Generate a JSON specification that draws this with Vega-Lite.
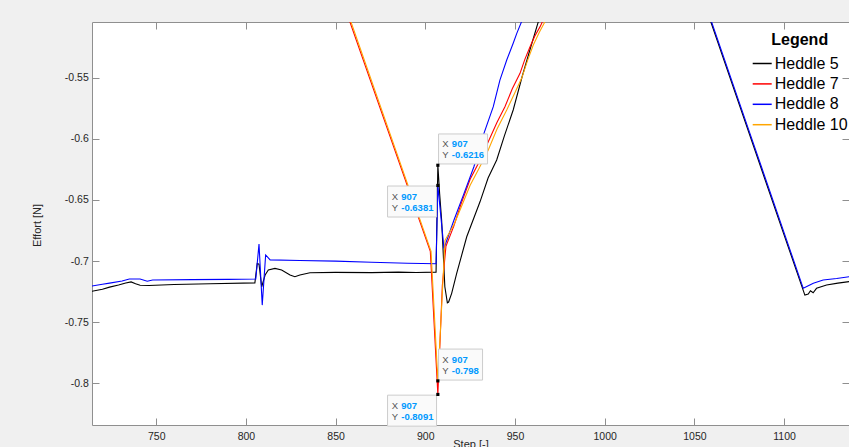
{
  "$schema": "https://vega.github.io/schema/vega-lite/v6.json",
  "width": 757,
  "height": 403,
  "autosize": {"type": "none"},
  "padding": {"left": 92, "top": 22, "right": 0, "bottom": 22},
  "background": "#f0f0f0",
  "config": {
    "view": {"fill": "white", "stroke": null},
    "font": "Liberation Sans",
    "locale": {"number": {"decimal": ".", "thousands": ",", "grouping": [3], "currency": ["$", ""], "minus": "-"}}
  },
  "resolve": {"axis": {"x": "independent", "y": "independent"}},
  "datasets": {
    "lines": [
      {"series": "Heddle 5", "step": 712, "effort": -0.7255},
      {"series": "Heddle 5", "step": 714.2, "effort": -0.7247},
      {"series": "Heddle 5", "step": 720, "effort": -0.7230},
      {"series": "Heddle 5", "step": 724, "effort": -0.7213},
      {"series": "Heddle 5", "step": 729, "effort": -0.7196},
      {"series": "Heddle 5", "step": 733, "effort": -0.7180},
      {"series": "Heddle 5", "step": 736, "effort": -0.7170},
      {"series": "Heddle 5", "step": 738.5, "effort": -0.7185},
      {"series": "Heddle 5", "step": 741, "effort": -0.7198},
      {"series": "Heddle 5", "step": 746, "effort": -0.7200},
      {"series": "Heddle 5", "step": 760, "effort": -0.7192},
      {"series": "Heddle 5", "step": 780, "effort": -0.7186},
      {"series": "Heddle 5", "step": 805, "effort": -0.7178},
      {"series": "Heddle 5", "step": 806.3, "effort": -0.7019},
      {"series": "Heddle 5", "step": 807.3, "effort": -0.7025},
      {"series": "Heddle 5", "step": 808.8, "effort": -0.7210},
      {"series": "Heddle 5", "step": 810.7, "effort": -0.7114},
      {"series": "Heddle 5", "step": 812.5, "effort": -0.7073},
      {"series": "Heddle 5", "step": 816.2, "effort": -0.7060},
      {"series": "Heddle 5", "step": 819.9, "effort": -0.7073},
      {"series": "Heddle 5", "step": 824.6, "effort": -0.7114},
      {"series": "Heddle 5", "step": 827.3, "effort": -0.7128},
      {"series": "Heddle 5", "step": 830.1, "effort": -0.7114},
      {"series": "Heddle 5", "step": 835.7, "effort": -0.7095},
      {"series": "Heddle 5", "step": 850, "effort": -0.7092},
      {"series": "Heddle 5", "step": 870, "effort": -0.7094},
      {"series": "Heddle 5", "step": 885, "effort": -0.7090},
      {"series": "Heddle 5", "step": 895, "effort": -0.7093},
      {"series": "Heddle 5", "step": 906, "effort": -0.7090},
      {"series": "Heddle 5", "step": 907, "effort": -0.6216},
      {"series": "Heddle 5", "step": 908, "effort": -0.6450},
      {"series": "Heddle 5", "step": 909.1, "effort": -0.6664},
      {"series": "Heddle 5", "step": 910.9, "effort": -0.7210},
      {"series": "Heddle 5", "step": 912.3, "effort": -0.7341},
      {"series": "Heddle 5", "step": 913, "effort": -0.7335},
      {"series": "Heddle 5", "step": 914.7, "effort": -0.7264},
      {"series": "Heddle 5", "step": 917.5, "effort": -0.7101},
      {"series": "Heddle 5", "step": 923.1, "effort": -0.6801},
      {"series": "Heddle 5", "step": 930.5, "effort": -0.6515},
      {"series": "Heddle 5", "step": 935, "effort": -0.6320},
      {"series": "Heddle 5", "step": 939.8, "effort": -0.6173},
      {"series": "Heddle 5", "step": 944, "effort": -0.5980},
      {"series": "Heddle 5", "step": 949, "effort": -0.5764},
      {"series": "Heddle 5", "step": 954, "effort": -0.5490},
      {"series": "Heddle 5", "step": 958.3, "effort": -0.5273},
      {"series": "Heddle 5", "step": 963, "effort": -0.5042},
      {"series": "Heddle 5", "step": 970, "effort": -0.4700},
      {"series": "Heddle 5", "step": 1008, "effort": -0.3000},
      {"series": "Heddle 5", "step": 1045, "effort": -0.4450},
      {"series": "Heddle 5", "step": 1059.2, "effort": -0.5044},
      {"series": "Heddle 5", "step": 1080, "effort": -0.5932},
      {"series": "Heddle 5", "step": 1100, "effort": -0.6785},
      {"series": "Heddle 5", "step": 1111.6, "effort": -0.7278},
      {"series": "Heddle 5", "step": 1113.5, "effort": -0.7270},
      {"series": "Heddle 5", "step": 1114.7, "effort": -0.7243},
      {"series": "Heddle 5", "step": 1116.2, "effort": -0.7259},
      {"series": "Heddle 5", "step": 1118.1, "effort": -0.7223},
      {"series": "Heddle 5", "step": 1123.7, "effort": -0.7196},
      {"series": "Heddle 5", "step": 1130, "effort": -0.7180},
      {"series": "Heddle 5", "step": 1137, "effort": -0.7166},

      {"series": "Heddle 7", "step": 838, "effort": -0.4218},
      {"series": "Heddle 7", "step": 858, "effort": -0.5044},
      {"series": "Heddle 7", "step": 902.8, "effort": -0.6920},
      {"series": "Heddle 7", "step": 907, "effort": -0.8091},
      {"series": "Heddle 7", "step": 909.5, "effort": -0.7200},
      {"series": "Heddle 7", "step": 911.5, "effort": -0.6880},
      {"series": "Heddle 7", "step": 916, "effort": -0.6710},
      {"series": "Heddle 7", "step": 920, "effort": -0.6530},
      {"series": "Heddle 7", "step": 925, "effort": -0.6330},
      {"series": "Heddle 7", "step": 930, "effort": -0.6190},
      {"series": "Heddle 7", "step": 935.1, "effort": -0.6023},
      {"series": "Heddle 7", "step": 940, "effort": -0.5865},
      {"series": "Heddle 7", "step": 944.4, "effort": -0.5737},
      {"series": "Heddle 7", "step": 948.5, "effort": -0.5590},
      {"series": "Heddle 7", "step": 952.8, "effort": -0.5464},
      {"series": "Heddle 7", "step": 955.5, "effort": -0.5350},
      {"series": "Heddle 7", "step": 958.4, "effort": -0.5246},
      {"series": "Heddle 7", "step": 961, "effort": -0.5160},
      {"series": "Heddle 7", "step": 964, "effort": -0.5082},
      {"series": "Heddle 7", "step": 966, "effort": -0.5020},
      {"series": "Heddle 7", "step": 972, "effort": -0.4820},

      {"series": "Heddle 8", "step": 712, "effort": -0.7215},
      {"series": "Heddle 8", "step": 714.2, "effort": -0.7204},
      {"series": "Heddle 8", "step": 720, "effort": -0.7190},
      {"series": "Heddle 8", "step": 724, "effort": -0.7180},
      {"series": "Heddle 8", "step": 731, "effort": -0.7163},
      {"series": "Heddle 8", "step": 735, "effort": -0.7147},
      {"series": "Heddle 8", "step": 741, "effort": -0.7147},
      {"series": "Heddle 8", "step": 745, "effort": -0.7165},
      {"series": "Heddle 8", "step": 748, "effort": -0.7155},
      {"series": "Heddle 8", "step": 770, "effort": -0.7152},
      {"series": "Heddle 8", "step": 790, "effort": -0.7150},
      {"series": "Heddle 8", "step": 805.5, "effort": -0.7147},
      {"series": "Heddle 8", "step": 807.3, "effort": -0.6861},
      {"series": "Heddle 8", "step": 809.1, "effort": -0.7360},
      {"series": "Heddle 8", "step": 811, "effort": -0.6950},
      {"series": "Heddle 8", "step": 813.5, "effort": -0.6990},
      {"series": "Heddle 8", "step": 830, "effort": -0.6995},
      {"series": "Heddle 8", "step": 850, "effort": -0.7000},
      {"series": "Heddle 8", "step": 870, "effort": -0.7010},
      {"series": "Heddle 8", "step": 890, "effort": -0.7018},
      {"series": "Heddle 8", "step": 906, "effort": -0.7022},
      {"series": "Heddle 8", "step": 907, "effort": -0.6381},
      {"series": "Heddle 8", "step": 910.4, "effort": -0.6896},
      {"series": "Heddle 8", "step": 916, "effort": -0.6664},
      {"series": "Heddle 8", "step": 921.6, "effort": -0.6446},
      {"series": "Heddle 8", "step": 927.1, "effort": -0.6228},
      {"series": "Heddle 8", "step": 932.7, "effort": -0.5955},
      {"series": "Heddle 8", "step": 937.9, "effort": -0.5737},
      {"series": "Heddle 8", "step": 941.6, "effort": -0.5519},
      {"series": "Heddle 8", "step": 945.4, "effort": -0.5355},
      {"series": "Heddle 8", "step": 949, "effort": -0.5218},
      {"series": "Heddle 8", "step": 951, "effort": -0.5137},
      {"series": "Heddle 8", "step": 953.7, "effort": -0.5040},
      {"series": "Heddle 8", "step": 957, "effort": -0.4880},
      {"series": "Heddle 8", "step": 1008, "effort": -0.3000},
      {"series": "Heddle 8", "step": 1045, "effort": -0.4420},
      {"series": "Heddle 8", "step": 1059.6, "effort": -0.5044},
      {"series": "Heddle 8", "step": 1080, "effort": -0.5914},
      {"series": "Heddle 8", "step": 1100, "effort": -0.6767},
      {"series": "Heddle 8", "step": 1110.7, "effort": -0.7223},
      {"series": "Heddle 8", "step": 1113.5, "effort": -0.7202},
      {"series": "Heddle 8", "step": 1116.3, "effort": -0.7182},
      {"series": "Heddle 8", "step": 1121.8, "effort": -0.7155},
      {"series": "Heddle 8", "step": 1129.3, "effort": -0.7142},
      {"series": "Heddle 8", "step": 1137, "effort": -0.7126},

      {"series": "Heddle 10", "step": 838.6, "effort": -0.4218},
      {"series": "Heddle 10", "step": 858.6, "effort": -0.5044},
      {"series": "Heddle 10", "step": 903.2, "effort": -0.6920},
      {"series": "Heddle 10", "step": 907, "effort": -0.7980},
      {"series": "Heddle 10", "step": 911, "effort": -0.6830},
      {"series": "Heddle 10", "step": 916, "effort": -0.6700},
      {"series": "Heddle 10", "step": 920, "effort": -0.6560},
      {"series": "Heddle 10", "step": 925, "effort": -0.6380},
      {"series": "Heddle 10", "step": 930, "effort": -0.6240},
      {"series": "Heddle 10", "step": 935.1, "effort": -0.6091},
      {"series": "Heddle 10", "step": 940, "effort": -0.5920},
      {"series": "Heddle 10", "step": 945.4, "effort": -0.5764},
      {"series": "Heddle 10", "step": 950, "effort": -0.5620},
      {"series": "Heddle 10", "step": 953.7, "effort": -0.5505},
      {"series": "Heddle 10", "step": 957, "effort": -0.5360},
      {"series": "Heddle 10", "step": 960.2, "effort": -0.5232},
      {"series": "Heddle 10", "step": 963.5, "effort": -0.5130},
      {"series": "Heddle 10", "step": 966.7, "effort": -0.5042},
      {"series": "Heddle 10", "step": 972, "effort": -0.4870}
    ],
    "tips": [
      {"series": "Heddle 5", "step": 907, "effort": -0.6216, "xs": "907", "ys": "-0.6216"},
      {"series": "Heddle 8", "step": 907, "effort": -0.6381, "xs": "907", "ys": "-0.6381"},
      {"series": "Heddle 10", "step": 907, "effort": -0.798, "xs": "907", "ys": "-0.798"},
      {"series": "Heddle 7", "step": 907, "effort": -0.8091, "xs": "907", "ys": "-0.8091"}
    ]
  },
  "layer": [
    {
      "data": {"name": "lines"},
      "mark": {"type": "line", "clip": true, "strokeWidth": 1.1},
      "encoding": {
        "x": {
          "field": "step", "type": "quantitative",
          "scale": {"domain": [714.2, 1136.2], "nice": false, "zero": false},
          "axis": {
            "orient": "bottom", "values": [750, 800, 850, 900, 950, 1000, 1050, 1100], "format": "d",
            "tickSize": -7, "labelPadding": 13.9, "labelFontSize": 10.5, "labelColor": "#262626",
            "labelFlush": false, "labelOverlap": false, "labelBound": false,
            "domainColor": "#8f8f8f", "tickColor": "#8f8f8f", "grid": false,
            "title": "Step [-]", "titleFontSize": 11, "titleFontWeight": "normal", "titleColor": "#262626",
            "titleBaseline": "top", "titleX": 378.5, "titleY": 13.5
          }
        },
        "y": {
          "field": "effort", "type": "quantitative",
          "scale": {"domain": [-0.8341, -0.5044], "nice": false, "zero": false},
          "axis": {
            "orient": "left", "values": [-0.8, -0.75, -0.7, -0.65, -0.6, -0.55], "format": "~g",
            "tickSize": -7, "labelPadding": 10.7, "labelFontSize": 10.5, "labelColor": "#262626",
            "labelFlush": false, "labelOverlap": false, "labelBound": false,
            "domainColor": "#8f8f8f", "tickColor": "#8f8f8f", "grid": false,
            "title": "Effort [N]", "titleFontSize": 11, "titleFontWeight": "normal", "titleColor": "#262626",
            "titleAngle": -90, "titleBaseline": "middle", "titleAlign": "center", "titleX": -55, "titleY": 203
          }
        },
        "color": {
          "field": "series", "type": "nominal",
          "scale": {"domain": ["Heddle 5", "Heddle 7", "Heddle 8", "Heddle 10"], "range": ["#000000", "#ff0000", "#0000ff", "#ffa500"]},
          "legend": {
            "title": "Legend", "orient": "none", "legendX": 659.7, "legendY": 10,
            "symbolType": "stroke", "symbolSize": 361, "symbolStrokeWidth": 1.5,
            "labelFontSize": 16, "labelColor": "#000000", "labelOffset": 2, "labelLimit": 200,
            "titleFontSize": 16, "titleFontWeight": "bold", "titleColor": "#000000",
            "titleAnchor": "middle", "titlePadding": 5, "rowPadding": 1.4, "padding": 0
          }
        }
      }
    },
    {
      "data": {"name": "tips"},
      "mark": {"type": "point", "opacity": 0},
      "encoding": {
        "x": {
          "field": "step", "type": "quantitative",
          "scale": {"domain": [714.2, 1136.2], "nice": false, "zero": false},
          "axis": {"orient": "top", "values": [750, 800, 850, 900, 950, 1000, 1050, 1100], "tickSize": -7, "labels": false, "title": null, "domainColor": "#8f8f8f", "tickColor": "#8f8f8f", "grid": false}
        },
        "y": {
          "field": "effort", "type": "quantitative",
          "scale": {"domain": [-0.8341, -0.5044], "nice": false, "zero": false},
          "axis": {"orient": "right", "values": [-0.8, -0.75, -0.7, -0.65, -0.6, -0.55], "tickSize": -7, "labels": false, "title": null, "domainColor": "#8f8f8f", "tickColor": "#8f8f8f", "grid": false}
        }
      }
    },
    {
      "data": {"name": "tips"},
      "mark": {"type": "point", "filled": true, "fill": "#fafafa", "stroke": "#cccccc", "strokeWidth": 1, "opacity": 1, "size": 10000, "clip": false},
      "encoding": {
        "x": {"field": "step", "type": "quantitative", "scale": {"domain": [714.2, 1136.2], "nice": false, "zero": false}, "axis": null},
        "y": {"field": "effort", "type": "quantitative", "scale": {"domain": [-0.8341, -0.5044], "nice": false, "zero": false}, "axis": null},
        "shape": {
          "field": "series", "type": "nominal", "legend": null,
          "scale": {
            "domain": ["Heddle 5", "Heddle 8", "Heddle 10", "Heddle 7"],
            "range": ["M0.014,-0.626H0.994V-0.026H0.014Z", "M-1.006,0.012H-0.026V0.632H-1.006Z", "M0.014,-0.636H0.894V-0.016H0.014Z", "M-1.006,0.014H-0.026V0.634H-1.006Z"]
          }
        }
      }
    },
    {
      "data": {"name": "tips"},
      "mark": {"type": "square", "size": 10, "color": "#000000", "opacity": 1, "clip": false},
      "encoding": {
        "x": {"field": "step", "type": "quantitative", "scale": {"domain": [714.2, 1136.2], "nice": false, "zero": false}, "axis": null},
        "y": {"field": "effort", "type": "quantitative", "scale": {"domain": [-0.8341, -0.5044], "nice": false, "zero": false}, "axis": null}
      }
    },
    {
      "data": {"name": "tips"},
      "transform": [{"filter": "datum.series == 'Heddle 5' || datum.series == 'Heddle 10'"}],
      "layer": [
        {"mark": {"type": "text", "align": "left", "baseline": "alphabetic", "dx": 4.4, "dy": -18.3, "fontSize": 9.5, "color": "#555555", "clip": false}, "encoding": {"text": {"value": "X"}}},
        {"mark": {"type": "text", "align": "left", "baseline": "alphabetic", "dx": 4.4, "dy": -7, "fontSize": 9.5, "color": "#555555", "clip": false}, "encoding": {"text": {"value": "Y"}}},
        {"mark": {"type": "text", "align": "left", "baseline": "alphabetic", "dx": 14, "dy": -18.3, "fontSize": 9.5, "fontWeight": "bold", "color": "#0099ff", "clip": false}, "encoding": {"text": {"field": "xs"}}},
        {"mark": {"type": "text", "align": "left", "baseline": "alphabetic", "dx": 14, "dy": -7, "fontSize": 9.5, "fontWeight": "bold", "color": "#0099ff", "clip": false}, "encoding": {"text": {"field": "ys"}}}
      ],
      "encoding": {
        "x": {"field": "step", "type": "quantitative", "scale": {"domain": [714.2, 1136.2], "nice": false, "zero": false}, "axis": null},
        "y": {"field": "effort", "type": "quantitative", "scale": {"domain": [-0.8341, -0.5044], "nice": false, "zero": false}, "axis": null}
      }
    },
    {
      "data": {"name": "tips"},
      "transform": [{"filter": "datum.series == 'Heddle 8' || datum.series == 'Heddle 7'"}],
      "layer": [
        {"mark": {"type": "text", "align": "left", "baseline": "alphabetic", "dx": -46, "dy": 14.2, "fontSize": 9.5, "color": "#555555", "clip": false}, "encoding": {"text": {"value": "X"}}},
        {"mark": {"type": "text", "align": "left", "baseline": "alphabetic", "dx": -46, "dy": 25.9, "fontSize": 9.5, "color": "#555555", "clip": false}, "encoding": {"text": {"value": "Y"}}},
        {"mark": {"type": "text", "align": "left", "baseline": "alphabetic", "dx": -36.6, "dy": 14.2, "fontSize": 9.5, "fontWeight": "bold", "color": "#0099ff", "clip": false}, "encoding": {"text": {"field": "xs"}}},
        {"mark": {"type": "text", "align": "left", "baseline": "alphabetic", "dx": -36.6, "dy": 25.9, "fontSize": 9.5, "fontWeight": "bold", "color": "#0099ff", "clip": false}, "encoding": {"text": {"field": "ys"}}}
      ],
      "encoding": {
        "x": {"field": "step", "type": "quantitative", "scale": {"domain": [714.2, 1136.2], "nice": false, "zero": false}, "axis": null},
        "y": {"field": "effort", "type": "quantitative", "scale": {"domain": [-0.8341, -0.5044], "nice": false, "zero": false}, "axis": null}
      }
    }
  ]
}
